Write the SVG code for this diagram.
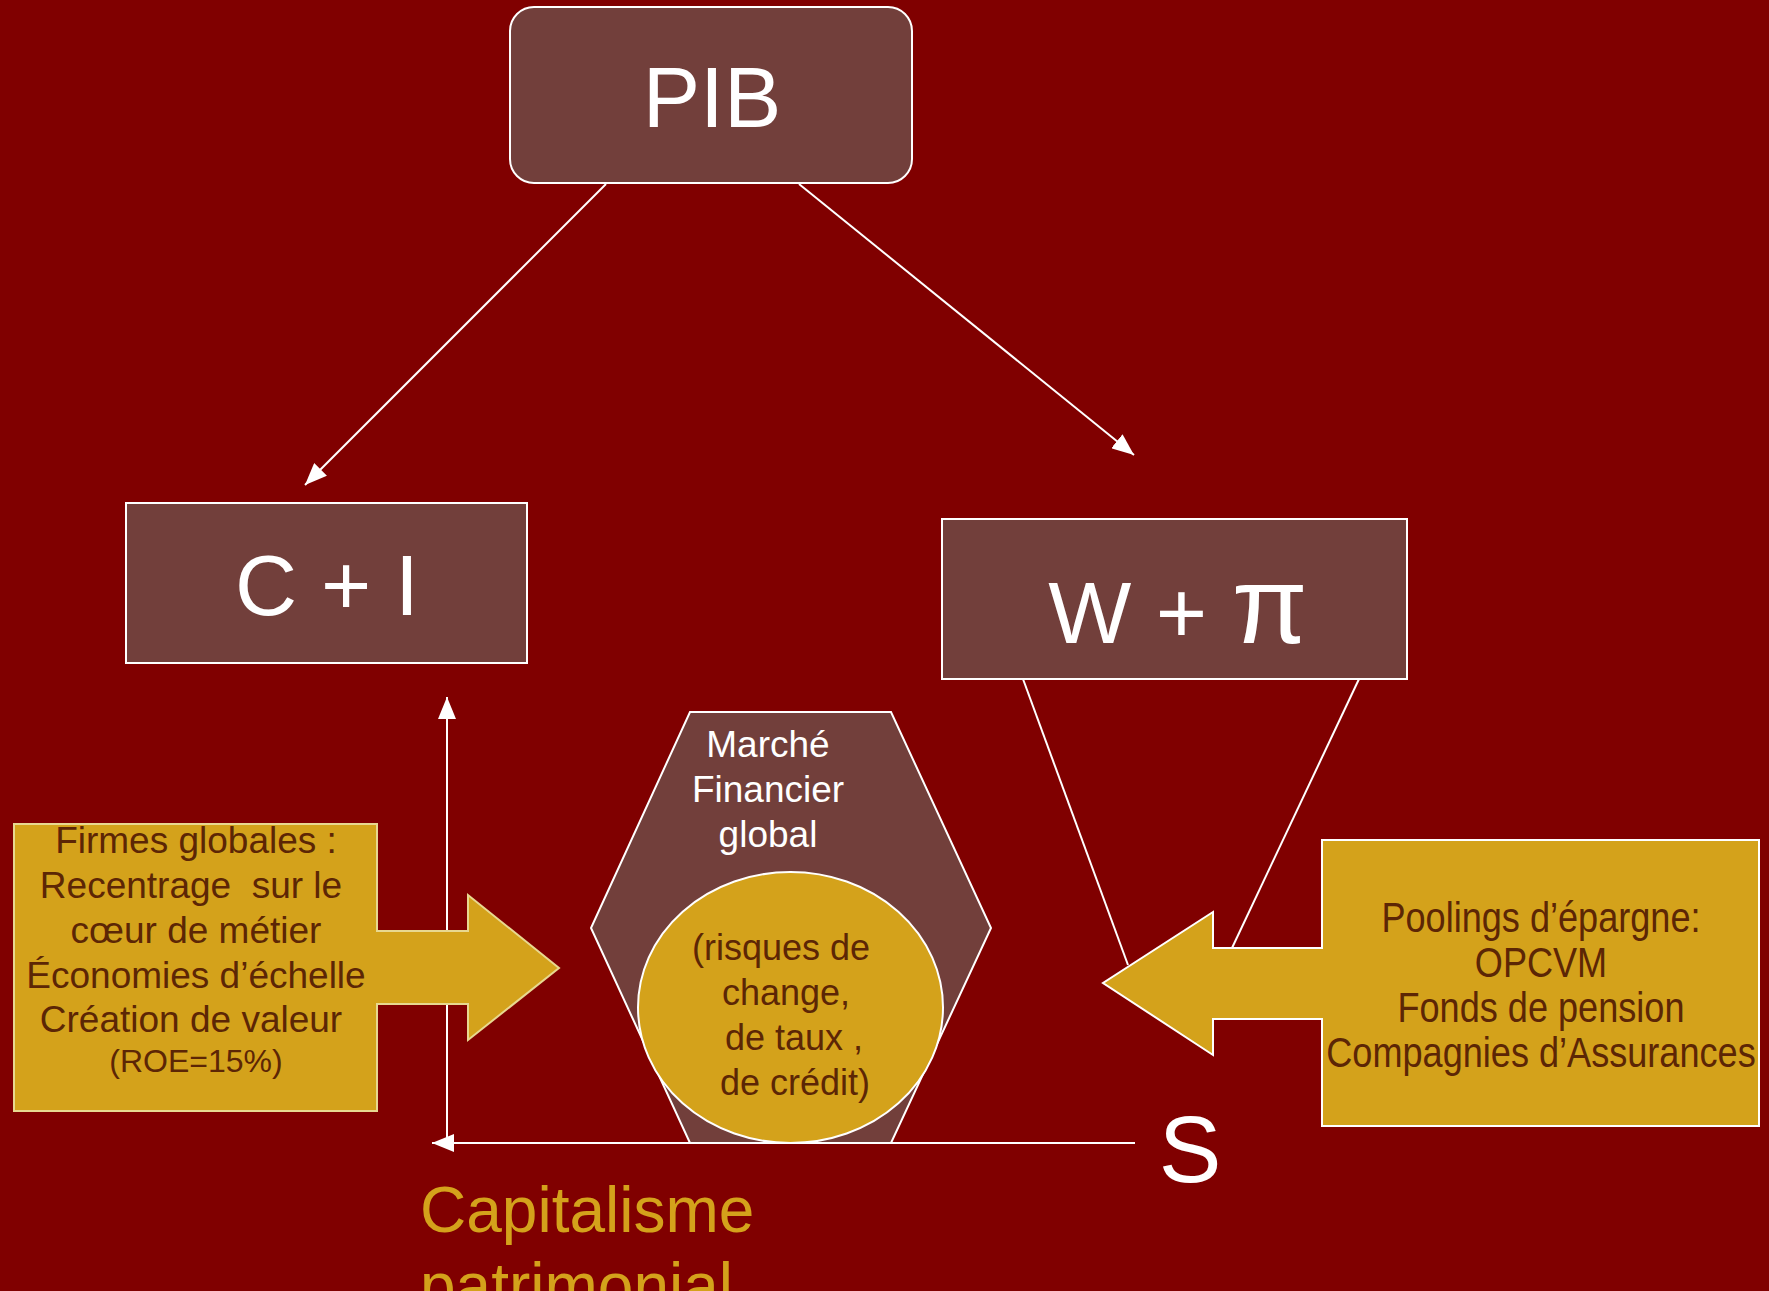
<svg xmlns="http://www.w3.org/2000/svg" width="1769" height="1291" viewBox="0 0 1769 1291">
<style>
.box{fill:#723F3B;stroke:#FFFFFF;stroke-width:2}
.gold{fill:#D4A21B}
.big{font-family:"Liberation Sans",Arial,sans-serif;fill:#FFFFFF;text-anchor:middle}
.txt{font-family:"Liberation Sans",Arial,sans-serif;text-anchor:middle}
.dark{fill:#5C2605}
.conn{stroke:#FFFFFF;stroke-width:2;fill:none}
</style>
<defs>
<marker id="ah" markerUnits="userSpaceOnUse" markerWidth="24" markerHeight="18" refX="22" refY="9" orient="auto">
<path d="M0,0 L22,9 L0,18 Z" fill="#FFFFFF"/>
</marker>
</defs>
<rect width="1769" height="1291" fill="#800000"/>

<g id="connectors">
<line class="conn" x1="606" y1="184" x2="305" y2="485" marker-end="url(#ah)"/>
<line class="conn" x1="799" y1="184" x2="1134" y2="455" marker-end="url(#ah)"/>
<line class="conn" x1="447" y1="1143" x2="447" y2="697" marker-end="url(#ah)"/>
<line class="conn" x1="1023" y1="679" x2="1128" y2="965"/>
<line class="conn" x1="1359" y1="679" x2="1232" y2="948"/>
</g>

<g id="pib">
<rect class="box" x="510" y="7" width="402" height="176" rx="24"/>
<text class="big" x="712" y="127" font-size="86">PIB</text>
</g>

<g id="ci">
<rect class="box" x="126" y="503" width="401" height="160"/>
<text class="big" x="327" y="615" font-size="86">C + I</text>
</g>

<g id="wpi">
<rect class="box" x="942" y="519" width="465" height="160"/>
<text class="big" x="1178" y="643" font-size="88">W + <tspan font-size="110">π</tspan></text>
</g>

<g id="marche">
<polygon class="box" points="690,712 891,712 991,928 891,1143 690,1143 591,928"/>
<text class="big" font-size="37"><tspan x="768" y="757">Marché</tspan><tspan x="768" y="802">Financier</tspan><tspan x="768" y="847">global</tspan></text>
<ellipse cx="790.5" cy="1007.5" rx="152.5" ry="135.5" class="gold" stroke="#FFFFFF" stroke-width="2"/>
<text class="txt dark" font-size="36"><tspan x="781" y="960">(risques de</tspan><tspan x="786" y="1005">change,</tspan><tspan x="789" y="1050"> de taux ,</tspan><tspan x="790" y="1095"> de crédit)</tspan></text>
</g>

<g id="firmes">
<path class="gold" d="M14,824 H377 V931 H468 V895 L559,968 L468,1040 V1004 H377 V1111 H14 Z" stroke="#E8D890" stroke-width="2"/>
<text class="txt dark" font-size="37" xml:space="preserve"><tspan x="196" y="853">Firmes globales :</tspan><tspan x="191" y="898">Recentrage  sur le</tspan><tspan x="196" y="943">cœur de métier</tspan><tspan x="196" y="988">Économies d’échelle</tspan><tspan x="191" y="1032">Création de valeur</tspan></text>
<text class="txt dark" font-size="32" x="196" y="1072">(ROE=15%)</text>
</g>

<g id="poolings">
<path class="gold" d="M1322,840 H1759 V1126 H1322 V1019 H1213 V1055 L1103,983 L1213,912 V948 H1322 Z" stroke="#FFFFFF" stroke-width="2"/>
<g transform="translate(1541,0) scale(0.84,1)">
<text class="txt dark" font-size="43"><tspan x="0" y="932">Poolings d’épargne:</tspan><tspan x="0" y="977">OPCVM</tspan><tspan x="0" y="1022">Fonds de pension</tspan><tspan x="0" y="1067">Compagnies d’Assurances</tspan></text>
</g>
</g>

<g id="connector-s">
<line class="conn" x1="1135" y1="1143" x2="432" y2="1143" marker-end="url(#ah)"/>
</g>

<g id="s">
<text class="big" x="1190" y="1182" font-size="94">S</text>
</g>

<g id="capitalisme">
<text font-family="Liberation Sans, Arial, sans-serif" font-size="64" fill="#D4A21B"><tspan x="420" y="1232">Capitalisme</tspan><tspan x="420" y="1308">patrimonial</tspan></text>
</g>
</svg>
